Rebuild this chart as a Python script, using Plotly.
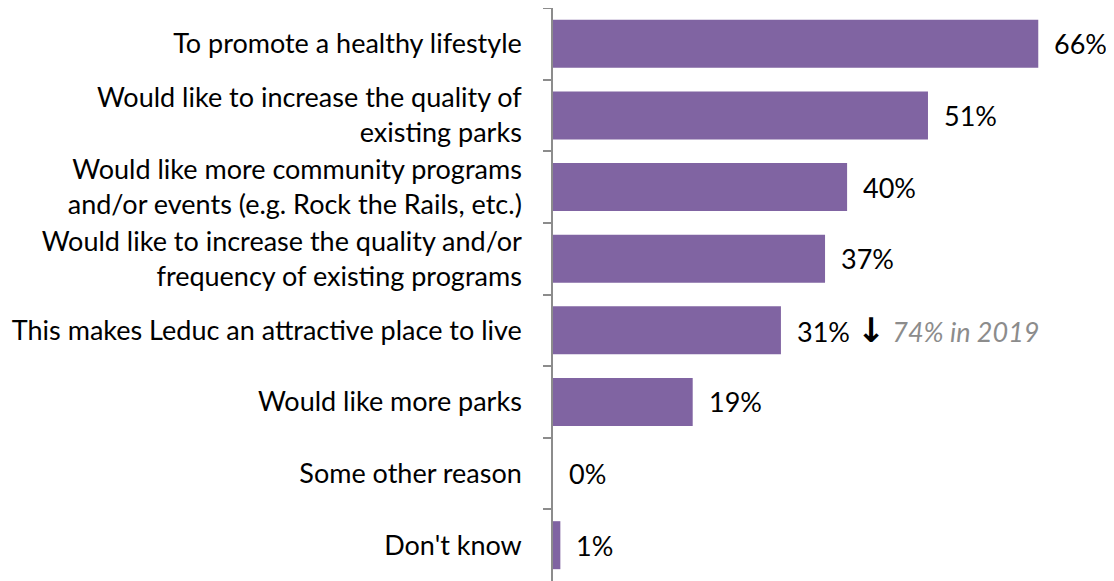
import plotly.graph_objects as go

categories = [
    "To promote a healthy lifestyle",
    "Would like to increase the quality of<br>existing parks",
    "Would like more community programs<br>and/or events (e.g. Rock the Rails, etc.)",
    "Would like to increase the quality and/or<br>frequency of existing programs",
    "This makes Leduc an attractive place to live",
    "Would like more parks",
    "Some other reason",
    "Don't know",
]
values = [66, 51, 40, 37, 31, 19, 0, 1]
labels = ["66%", "51%", "40%", "37%", "31%", "19%", "0%", "1%"]
note_idx = 4
note_text = "74% in 2019"

BAR = "#8064A2"
FONT = "Lato"
FS = 27

fig = go.Figure(go.Bar(
    y=categories, x=values, orientation="h",
    marker=dict(color=BAR, line=dict(width=0)),
    width=0.67, hoverinfo="skip",
))

for i, (c, v, lab) in enumerate(zip(categories, values, labels)):
    txt = lab
    if i == note_idx:
        txt = (lab + " <span style='font-family:DejaVu Sans;font-weight:bold;font-size:34px'>\u2193</span> "
               "<i><span style='color:#8c8c8c'>" + note_text + "</span></i>")
    fig.add_annotation(x=v, y=c, text=txt, showarrow=False, xanchor="left",
                       xshift=14, font=dict(family=FONT, size=FS, color="#000000"))

# The page body has an 8px default margin, so the figure is sized to fill the rest.
fig.update_layout(
    width=1106, height=573,
    margin=dict(l=545, r=0, t=0, b=0),
    paper_bgcolor="white", plot_bgcolor="white",
    showlegend=False,
    font=dict(family=FONT, size=FS, color="#000000"),
    xaxis=dict(range=[0, 76.3], visible=False, fixedrange=True, automargin=False),
    yaxis=dict(
        categoryorder="array", categoryarray=categories, autorange="reversed",
        automargin=False,
        showline=True, linecolor="#8c8c8c", linewidth=1.5,
        ticks="outside", tickson="boundaries", ticklen=8, tickcolor="#8c8c8c", tickwidth=1.5,
        ticklabelstandoff=24, showgrid=False,
        tickfont=dict(family=FONT, size=FS, color="#000000"),
    ),
)

fig.write_html("out.html")
